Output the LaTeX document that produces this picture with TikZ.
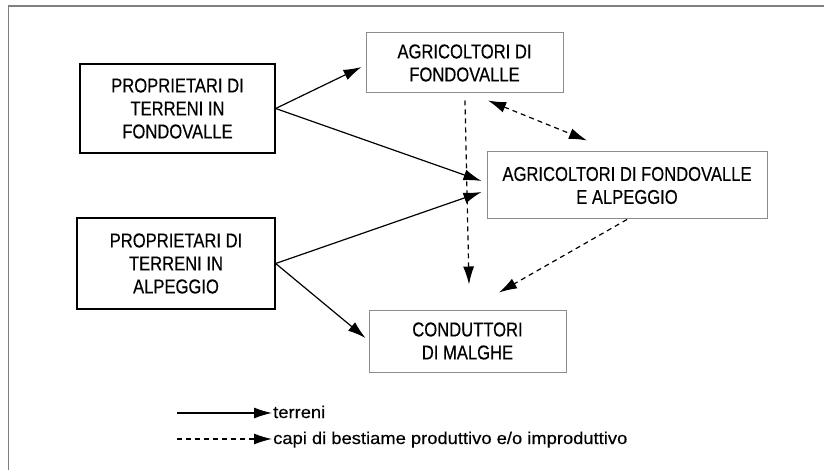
\documentclass[tikz,border=0pt]{standalone}
\usepackage{fontspec}
\setmainfont{Liberation Sans}[FakeStretch=0.83,FakeBold=0.4]
\newfontfamily\legendfont{Liberation Sans}[FakeStretch=1.08,FakeBold=0.3]
\usepackage{tikz}
\usetikzlibrary{arrows.meta}

\tikzset{
  owner/.style={draw=black,line width=1.3pt,align=center,inner sep=0pt,
    font=\fontsize{20}{23}\selectfont},
  farmer/.style={draw=black!45,line width=1pt,align=center,inner sep=0pt,
    font=\fontsize{20}{23}\selectfont},
  land/.style={-{Latex[length=18pt,width=11pt]},line width=1.2pt},
  cattle/.style={-{Latex[length=18pt,width=11pt]},line width=1.2pt,dash pattern=on 5pt off 4pt},
}

\begin{document}
\begin{tikzpicture}[x=1pt,y=-1pt]
		\useasboundingbox (0,0) rectangle (824,470);
		\draw[black!50,line width=1.5pt] (8.5,470) |- (824,6);
		%
		\node[owner,minimum width=195pt,minimum height=89pt] (PF) at (177.5,108.5) {PROPRIETARI DI\\TERRENI IN\\FONDOVALLE};
		\node[owner,minimum width=198pt,minimum height=91pt] (PA) at (176,263.5) {PROPRIETARI DI\\TERRENI IN\\ALPEGGIO};
		\node[farmer,minimum width=197pt,minimum height=60pt] (AF) at (464.5,63) {AGRICOLTORI DI\\FONDOVALLE};
		\node[farmer,minimum width=280pt,minimum height=67pt] (AFA) at (627,185.5) {AGRICOLTORI DI FONDOVALLE\\E ALPEGGIO};
		\node[farmer,minimum width=197pt,minimum height=62pt] (CM) at (467.5,341) {CONDUTTORI\\DI MALGHE};
		%
		\path[land]
		(PF.east) edge ([xshift=-4pt,yshift=-4pt]AF.west)
		(PF.east) edge ([xshift=-5pt,yshift=4.5pt]AFA.west)
		(PA.east) edge ([xshift=-5pt,yshift=-6.5pt]AFA.west)
		(PA.east) edge ([xshift=-3pt,yshift=3pt]CM.west);
		\path[cattle]
		([xshift=0.5pt,yshift=-7pt]AF.south) edge ([xshift=1.5pt,yshift=25pt]CM.north)
		([xshift=23.5pt,yshift=-7pt]AF.south) edge[{Latex[length=18pt,width=11pt]}-{Latex[length=18pt,width=11pt]}] ([xshift=-40pt,yshift=11pt]AFA.north)
		(AFA.south) edge ([xshift=31.5pt,yshift=17pt]CM.north);
		%
		\node[anchor=base west,inner sep=1pt,font=\legendfont\fontsize{17}{20}\selectfont] (lgland) at (272,418) {terreni};
		\node[anchor=base west,inner sep=1pt,font=\legendfont\fontsize{17}{20}\selectfont] (lgcattle) at (272,444) {capi di bestiame produttivo e/o improduttivo};
		\coordinate (lgland0) at (177,413);
		\coordinate (lgcattle0) at (177,439);
		\draw[land] (lgland0) -- (lgland0 -| lgland.west);
		\draw[cattle] (lgcattle0) -- (lgcattle0 -| lgcattle.west);
\end{tikzpicture}
\end{document}
